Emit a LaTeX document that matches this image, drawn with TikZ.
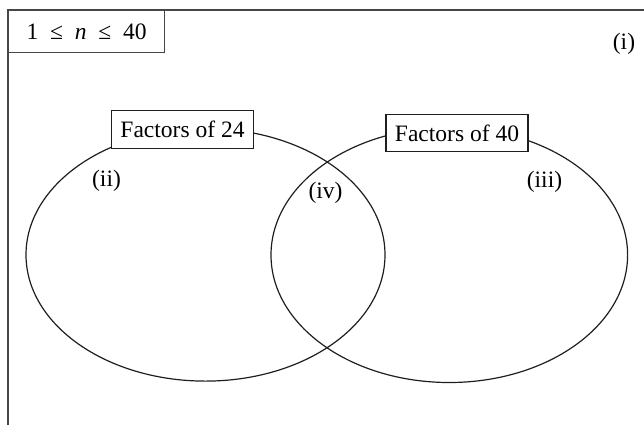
\documentclass[tikz,border=0pt]{standalone}
\usepackage{fontspec}
\setmainfont{Liberation Serif}
\definecolor{frameline}{RGB}{70,70,70}
\definecolor{setline}{RGB}{30,30,30}

\tikzset{
  labelbox/.style={draw=setline, fill=white, line width=1.1bp, inner xsep=9bp, inner ysep=0pt, minimum height=37.5bp},
  region/.style={inner sep=0pt}
}

\begin{document}
\begin{tikzpicture}[x=1bp, y=-1bp, font=\fontsize{23.6}{28}\selectfont]
  \useasboundingbox (0,0) rectangle (644,426);
  % universal set, cut off at right and bottom
  \coordinate (ubl) at (8,425);
  \coordinate (utl) at (8,10);
  \coordinate (utr) at (644,10);
  \draw[frameline, line width=1.3bp] (ubl) -- (utl) -- (utr);
  \node[draw=frameline, line width=1.3bp, anchor=north west, minimum width=156bp, minimum height=42bp, inner sep=0pt] (range) at (utl) {1\hspace{.5em}≤\hspace{.5em}\textit{n}\hspace{.5em}≤\hspace{.5em}40};
  \node[region] (ri) at (624,44) {(i)};
  % the two sets
  \draw[setline, line width=1.2bp] (205.5,254.8) ellipse (179.5 and 126.3);
  \draw[setline, line width=1.2bp] (449.3,255) ellipse (178.3 and 127.5);
  \node[labelbox] (fa) at (182.5,129.5) {Factors of 24};
  \node[labelbox] (fb) at (457,133) {Factors of 40};
  \node[region] (rii) at (106.5,181) {(ii)};
  \node[region] (riv) at (325.5,193) {(iv)};
  \node[region] (riii) at (544.5,182) {(iii)};
\end{tikzpicture}
\end{document}
